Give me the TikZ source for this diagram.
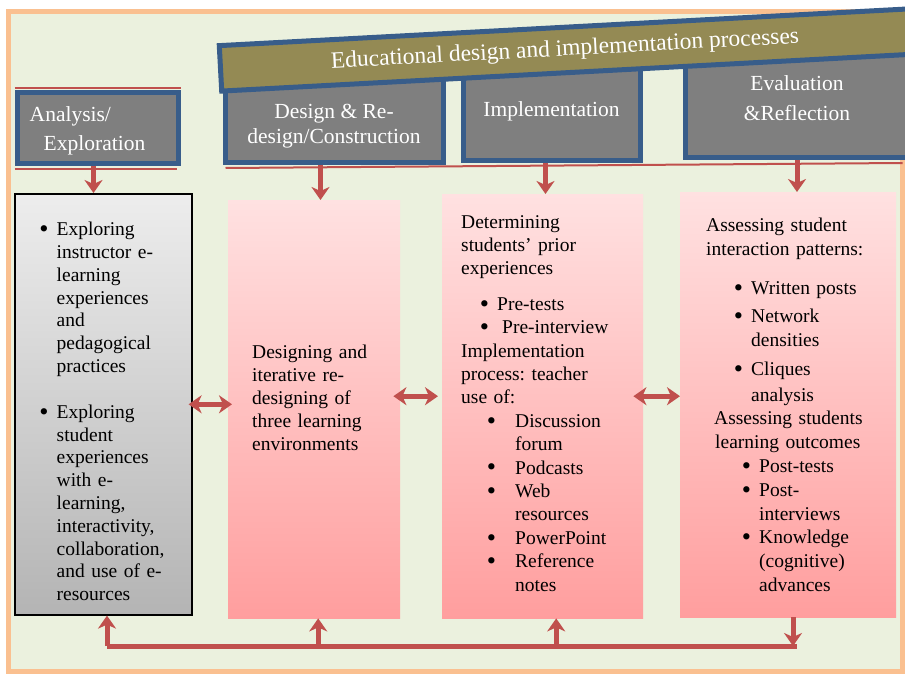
\documentclass[tikz,border=0pt]{standalone}
\usepackage{fontspec}
\setmainfont{Liberation Serif}
\usepackage{xcolor}
\usepackage{tikz}
\usetikzlibrary{shapes, arrows.meta, positioning, calc}

\definecolor{frameorange}{HTML}{FAC090}
\definecolor{paper}{HTML}{EBF1DE}
\definecolor{boxblue}{HTML}{385D8A}
\definecolor{bandolive}{HTML}{948A54}
\definecolor{hdrgray}{HTML}{7F7F7F}
\definecolor{arrowred}{HTML}{C0504D}
\definecolor{pinktop}{HTML}{FFE1E1}
\definecolor{pinkbot}{HTML}{FF9E9E}
\definecolor{graytop}{HTML}{EDEDED}
\definecolor{graybot}{HTML}{B4B4B4}

\frenchspacing
% bullet with its own indent and box width, and a plain indent
\newcommand{\bul}[2]{\hspace*{#1}\makebox[#2][l]{\raisebox{-1.8pt}{\scalebox{1.35}{\textbullet}}}}
\newcommand{\ind}[1]{\hspace*{#1}}

\begin{document}
\begin{tikzpicture}[
        x=1pt, y=-1pt,
        >={Stealth[length=13pt, width=18pt, inset=4pt]},
        hdr/.style={
            rectangle,
            draw=boxblue,
            line width=5pt,
            fill=hdrgray,
            text=white,
            font=\fontsize{21.5}{25}\selectfont,
            align=center,
            inner sep=0pt
        },
        hdrtext/.style={text=white, font=\fontsize{21.5}{25}\selectfont, align=center, inner sep=0pt},
        band/.style={
            rectangle,
            draw=boxblue,
            line width=5pt,
            fill=bandolive,
            text=white,
            font=\fontsize{23.5}{28}\selectfont,
            inner sep=0pt
        },
        body/.style={
            rectangle,
            inner sep=0pt,
            align=left,
            anchor=north west,
            font=\fontsize{19.5}{23.4}\selectfont
        },
        pinkbox/.style={body, top color=pinktop, bottom color=pinkbot},
        arr/.style={->, draw=arrowred, line width=5pt},
        twoway/.style={<->, draw=arrowred, line width=5pt},
        redrule/.style={draw=arrowred, line width=2pt}
    ]
        \path[use as bounding box, fill=white] (0,0) rectangle (905,677);
        \draw[draw=frameorange, fill=paper, line width=5pt] (8.5,11.5) rectangle (902.5,671.5);

        % Phase headers
        \node[hdr, anchor=south west, minimum width=218pt, minimum height=85.5pt] (design) at (222.5,164.5) {};
        \node[hdrtext] (designtext) at ([yshift=-7pt]design.center) {Design \& Re-\\design/Construction};
        \node[hdr, anchor=south west, minimum width=177pt, minimum height=97pt] (impl) at (460.5,162.5)
            {Implementation};
        \node[hdr, anchor=south west, minimum width=224pt, minimum height=118pt] (eval) at (682.5,159.5)
            {Evaluation\\[5pt]\&Reflection};
        \node[band, rotate=3.05, minimum width=690pt, minimum height=45.5pt] (title) at (565,50)
            {Educational design and implementation processes};
        \node[hdr, align=left, anchor=south west, minimum width=161pt, minimum height=71pt] (analysis) at (14.5,165.5)
            {\rule{0pt}{21pt}Analysis/\\[4pt]\ind{14pt}Exploration\hspace*{20pt}};

        \draw[redrule] ([yshift=1.5pt]analysis.north west) -- ([yshift=1.5pt]analysis.north east);
        \draw[redrule] ([yshift=-3pt]analysis.south west) -- ([xshift=-4pt, yshift=-3pt]analysis.south east);
        \draw[redrule] ([xshift=3pt, yshift=-3.5pt]design.south west) -- ([xshift=-9pt, yshift=-3.5pt]eval.south east);

        % Activity boxes
        \node[body, draw=black, line width=1.6pt, top color=graytop, bottom color=graybot,
              minimum width=177pt, minimum height=421pt, text width=128pt,
              font=\fontsize{19.5}{22.8}\selectfont] (explore) at (14,193) {%
            \bul{0pt}{17.4pt}\rule{0pt}{28pt}Exploring\\
            \ind{17.4pt}instructor e-\\
            \ind{17.4pt}learning\\
            \ind{17.4pt}experiences\\
            \ind{17.4pt}and\\
            \ind{17.4pt}pedagogical\\
            \ind{17.4pt}practices\\[23pt]
            \bul{0pt}{17.4pt}Exploring\\
            \ind{17.4pt}student\\
            \ind{17.4pt}experiences\\
            \ind{17.4pt}with e-\\
            \ind{17.4pt}learning,\\
            \ind{17.4pt}interactivity,\\
            \ind{17.4pt}collaboration,\\
            \ind{17.4pt}and use of e-\\
            \ind{17.4pt}resources};
        \node[pinkbox, minimum width=172pt, minimum height=418pt, text width=124pt,
              font=\fontsize{19.5}{23}\selectfont] (build) at (228,200) {%
            Designing and\\
            iterative re-\\
            designing of\\
            three learning\\
            environments\rule[-22pt]{0pt}{1pt}};
        \node[pinkbox, minimum width=201pt, minimum height=424pt, text width=163pt] (implbox) at (442,194) {%
            Determining\\
            students' prior\\
            experiences\\[12pt]
            \bul{18.6pt}{17.4pt}Pre-tests\\
            \bul{18.6pt}{17.4pt}\ind{5pt}Pre-interview\\
            Implementation\\
            process: teacher\\
            use of:\\
            \bul{25.6pt}{28.4pt}Discussion\\
            \ind{54pt}forum\\
            \bul{25.6pt}{28.4pt}Podcasts\\
            \bul{25.6pt}{28.4pt}Web\\
            \ind{54pt}resources\\
            \bul{25.6pt}{28.4pt}PowerPoint\\
            \bul{25.6pt}{28.4pt}Reference\\
            \ind{54pt}notes\rule[-6pt]{0pt}{1pt}};
        \node[pinkbox, minimum width=216pt, minimum height=425pt, text width=164pt,
              font=\fontsize{19.5}{23.8}\selectfont] (evalbox) at (680,192) {%
            Assessing student\\
            interaction patterns:\\[16pt]
            \bul{27.6pt}{17.4pt}Written posts\\[4pt]
            \bul{27.6pt}{17.4pt}Network\\
            \ind{45pt}densities\\[5pt]
            \bul{27.6pt}{17.4pt}Cliques\\[2pt]
            \ind{45pt}analysis\\
            \ind{8pt}Assessing students\\
            \ind{9pt}learning outcomes\\
            \bul{35.6pt}{17.4pt}Post-tests\\
            \bul{35.6pt}{17.4pt}Post-\\
            \ind{53pt}interviews\\
            \bul{35.6pt}{17.4pt}Knowledge\\
            \ind{53pt}(cognitive)\\
            \ind{53pt}advances};

        % Header to activity
        \draw[arr] ([xshift=-4pt]analysis.south) -- ([xshift=-4pt]analysis.south |- explore.north);
        \draw[arr] ([xshift=-13.5pt]design.south) -- ([xshift=-13.5pt]design.south |- build.north);
        \draw[arr] ([xshift=-6pt]impl.south) -- ([xshift=-6pt]impl.south |- implbox.north);
        \draw[arr] (eval.south) -- (eval.south |- evalbox.north);

        % Between activities
        \draw[twoway, shorten <=-4pt, shorten >=-4pt] (explore.east) -- (explore.east -| build.west);
        \draw[twoway, shorten <=-7pt, shorten >=4pt] ([yshift=13pt]build.east) -- ([yshift=13pt]build.east -| implbox.west);
        \draw[twoway, shorten <=-10pt] ([yshift=10pt]implbox.east) -- ([yshift=10pt]implbox.east -| evalbox.west);

        % Feedback loop
        \coordinate (fbL) at (107,646);
        \coordinate (fbR) at (793,646);
        \draw[arr] (evalbox.south -| fbR) -- (fbR);
        \draw[draw=arrowred, line width=5pt] (fbL) -- ([xshift=4pt]fbR);
        \draw[arr] (fbL) -- (fbL |- explore.south);
        \draw[arr] ([xshift=4pt]build.south |- fbL) -- ([xshift=4pt]build.south);
        \draw[arr] ([xshift=13.5pt]implbox.south |- fbL) -- ([xshift=13.5pt]implbox.south);

\end{tikzpicture}
\end{document}
